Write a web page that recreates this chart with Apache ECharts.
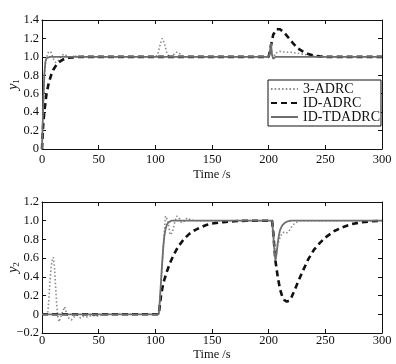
<!DOCTYPE html>
<html>
<head>
<meta charset="utf-8">
<script src="https://cdn.jsdelivr.net/npm/echarts@6/dist/echarts.min.js"></script>
<style>html,body{margin:0;padding:0;background:#fff}#c{width:396px;height:364px}</style>
</head>
<body>
<div id="c"></div>
<script>
// ---------- data ----------
var seriesNames = ['3-ADRC', 'ID-ADRC', 'ID-TDADRC'];
var xTicks = [0, 50, 100, 150, 200, 250, 300];

// y1, 3-ADRC
var t1_a = [0,1,2,3,4,5,6,8,10,12,14,16,18,20,23,26,30,35,40,100,102,104,106,108,110,112,114,116,118,120,122,124,127,130,200,201,202,203,204,206,210,215,220,225,230,235,240,245,300];
var y1_a = [0,0.4,0.75,0.92,0.99,1.03,1.06,1.05,0.98,0.94,0.95,0.99,1.02,1.03,1.0,0.98,1.01,1.0,1.0,1.0,1.02,1.12,1.2,1.15,1.05,1.0,1.0,1.02,1.05,1.05,1.03,1.0,1.0,1.0,1.0,1.05,1.1,1.04,0.98,1.04,1.06,1.05,1.05,1.04,1.03,1.02,1.01,1.0,1.0];
// y1, ID-ADRC
var t1_b = [0,1,2,3,4,6,8,10,12,14,17,20,24,28,35,200,202,204,207,210,214,218,222,226,230,235,240,245,250,300];
var y1_b = [0,0.25,0.4,0.5,0.6,0.72,0.8,0.86,0.9,0.93,0.96,0.98,0.99,0.997,1,1,1.12,1.24,1.3,1.3,1.26,1.2,1.14,1.09,1.06,1.03,1.015,1.005,1,1];
// y1, ID-TDADRC
var t1_c = [0,1,2,3,4,5,7,200,201,202,203,204,205,206,300];
var y1_c = [0,0.45,0.8,0.95,0.985,1,1,1,1.05,1.15,1.02,0.98,0.99,1,1];

// y2, 3-ADRC
var t2_a = [0,5,6,7,8,9,10,11,12,13,14,15,16,18,20,21,22,24,26,28,31,34,37,40,44,48,52,56,60,103,104,106,108,109,110,111,113,115,117,119,121,123,125,128,131,135,140,203,204,205,206,207,208,210,212,214,216,218,220,222,224,226,228,230,300];
var y2_a = [0,0,0.15,0.35,0.5,0.58,0.61,0.5,0.3,0.1,-0.03,-0.08,-0.06,0.02,0.08,0.06,0.0,-0.05,-0.06,-0.03,-0.01,-0.04,-0.02,-0.03,-0.01,-0.02,-0.01,0,0,0,0.15,0.5,0.9,1.05,1.07,1.0,0.85,0.87,0.98,1.05,1.03,0.98,0.99,1.03,1.01,1.0,1.0,1,0.88,0.75,0.62,0.66,0.74,0.82,0.87,0.88,0.87,0.89,0.93,0.96,0.98,0.99,1.0,1.0,1.0];
// y2, ID-ADRC
var t2_b = [0,103,104,105,107,110,113,116,120,125,130,135,140,145,150,160,170,180,203,204,205,206,208,210,212,214,216,218,220,223,226,230,235,240,245,250,258,265,272,280,290,300];
var y2_b = [0,0,0.1,0.2,0.33,0.45,0.55,0.63,0.72,0.8,0.86,0.9,0.93,0.955,0.97,0.985,0.995,1,1,0.88,0.72,0.57,0.4,0.27,0.19,0.15,0.135,0.145,0.18,0.26,0.35,0.46,0.59,0.69,0.76,0.82,0.89,0.93,0.96,0.98,0.993,1];
// y2, ID-TDADRC
var t2_c = [0,103,104,105,106,107,108,109,110,111,112,114,116,203,204,205,206,207,208,209,210,212,214,216,218,220,300];
var y2_c = [0,0,0.15,0.35,0.55,0.72,0.84,0.91,0.95,0.975,0.99,1,1,1,0.85,0.7,0.57,0.65,0.76,0.84,0.9,0.95,0.975,0.99,0.997,1,1];

// ---------- chart ----------
function pairs(t, y) { return t.map(function (v, i) { return [v, y[i]]; }); }
var FONT = '"Liberation Serif", "Times New Roman", serif';
var styles = [
  { color: '#8a8a8a', width: 1.6, type: [1.5, 2.2] },
  { color: '#111111', width: 2.6, type: [6, 4] },
  { color: '#6e6e6e', width: 1.8, type: 'solid' }
];
function fmtY(v) {
  var r = Math.round(v * 10) / 10;
  if (Math.abs(r) < 1e-9) return '0';
  return (r < 0 ? '\u2212' : '') + Math.abs(r).toFixed(1);
}
var grids = [
  { left: 42, top: 20, width: 340, height: 129, containLabel: false, outerBoundsMode: 'none' },
  { left: 42, top: 202, width: 340, height: 131, containLabel: false, outerBoundsMode: 'none' }
];
var xLabelMargin = [4, 1], xNameGap = [19, 15];
var xAxes = [], yAxes = [];
[0, 1].forEach(function (g) {
  xAxes.push({
    type: 'value', gridIndex: g, min: 0, max: 300, interval: 50,
    name: 'Time /s', nameLocation: 'middle', nameGap: xNameGap[g], nameMoveOverlap: false,
    nameTextStyle: { fontFamily: FONT, fontSize: 12.5, color: '#111' },
    axisLine: { show: true, onZero: false, lineStyle: { color: '#111', width: 1 } },
    axisTick: { show: true, inside: true, length: 4, lineStyle: { color: '#111' } },
    axisLabel: { fontFamily: FONT, fontSize: 12.5, color: '#111', margin: xLabelMargin[g] },
    splitLine: { show: false }
  });
  xAxes.push({
    type: 'value', gridIndex: g, min: 0, max: 300, interval: 50, position: 'top',
    axisLine: { show: true, onZero: false, lineStyle: { color: '#111', width: 1 } },
    axisTick: { show: true, inside: true, length: 4, lineStyle: { color: '#111' } },
    axisLabel: { show: false }, splitLine: { show: false }
  });
  var ymin = g === 0 ? 0 : -0.2, ymax = g === 0 ? 1.4 : 1.2;
  yAxes.push({
    type: 'value', gridIndex: g, min: ymin, max: ymax, interval: 0.2,
    name: '{i|y}{s|' + (g + 1) + '}', nameLocation: 'middle', nameGap: 21, nameRotate: 90,
    nameMoveOverlap: false,
    nameTextStyle: { fontFamily: FONT, color: '#111',
      rich: { i: { fontFamily: FONT, fontStyle: 'italic', fontSize: 14, color: '#111' },
              s: { fontFamily: FONT, fontSize: 9, color: '#111', padding: [7, 0, 0, 0] } } },
    axisLine: { show: true, onZero: false, lineStyle: { color: '#111', width: 1 } },
    axisTick: { show: true, inside: true, length: 4, lineStyle: { color: '#111' } },
    axisLabel: { fontFamily: FONT, fontSize: 12.5, color: '#111', margin: 3, formatter: fmtY },
    splitLine: { show: false }
  });
  yAxes.push({
    type: 'value', gridIndex: g, min: ymin, max: ymax, interval: 0.2, position: 'right',
    axisLine: { show: true, onZero: false, lineStyle: { color: '#111', width: 1 } },
    axisTick: { show: true, inside: true, length: 4, lineStyle: { color: '#111' } },
    axisLabel: { show: false }, splitLine: { show: false }
  });
});
var data1 = [pairs(t1_a, y1_a), pairs(t1_b, y1_b), pairs(t1_c, y1_c)];
var data2 = [pairs(t2_a, y2_a), pairs(t2_b, y2_b), pairs(t2_c, y2_c)];
var series = [];
[data1, data2].forEach(function (set, g) {
  set.forEach(function (d, i) {
    series.push({
      name: seriesNames[i], type: 'line', xAxisIndex: g * 2, yAxisIndex: g * 2,
      data: d, symbol: 'none', smooth: false, animation: false,
      lineStyle: { color: styles[i].color, width: styles[i].width, type: styles[i].type },
      itemStyle: { color: styles[i].color }, z: 2 + i
    });
  });
});
var chart = echarts.init(document.getElementById('c'), null, { renderer: 'canvas' });
chart.setOption({
  backgroundColor: '#fff',
  animation: false,
  grid: grids,
  xAxis: xAxes,
  yAxis: yAxes,
  legend: {
    data: seriesNames, orient: 'vertical', left: 268, top: 80,
    backgroundColor: '#fff', borderColor: '#111', borderWidth: 1,
    padding: [2, 1, 2, 2], itemGap: 0, itemWidth: 27, itemHeight: 10,
    itemStyle: { opacity: 0 },
    textStyle: { fontFamily: FONT, fontSize: 14, lineHeight: 11, color: '#111' }
  },
  series: series
});
</script>
</body>
</html>
